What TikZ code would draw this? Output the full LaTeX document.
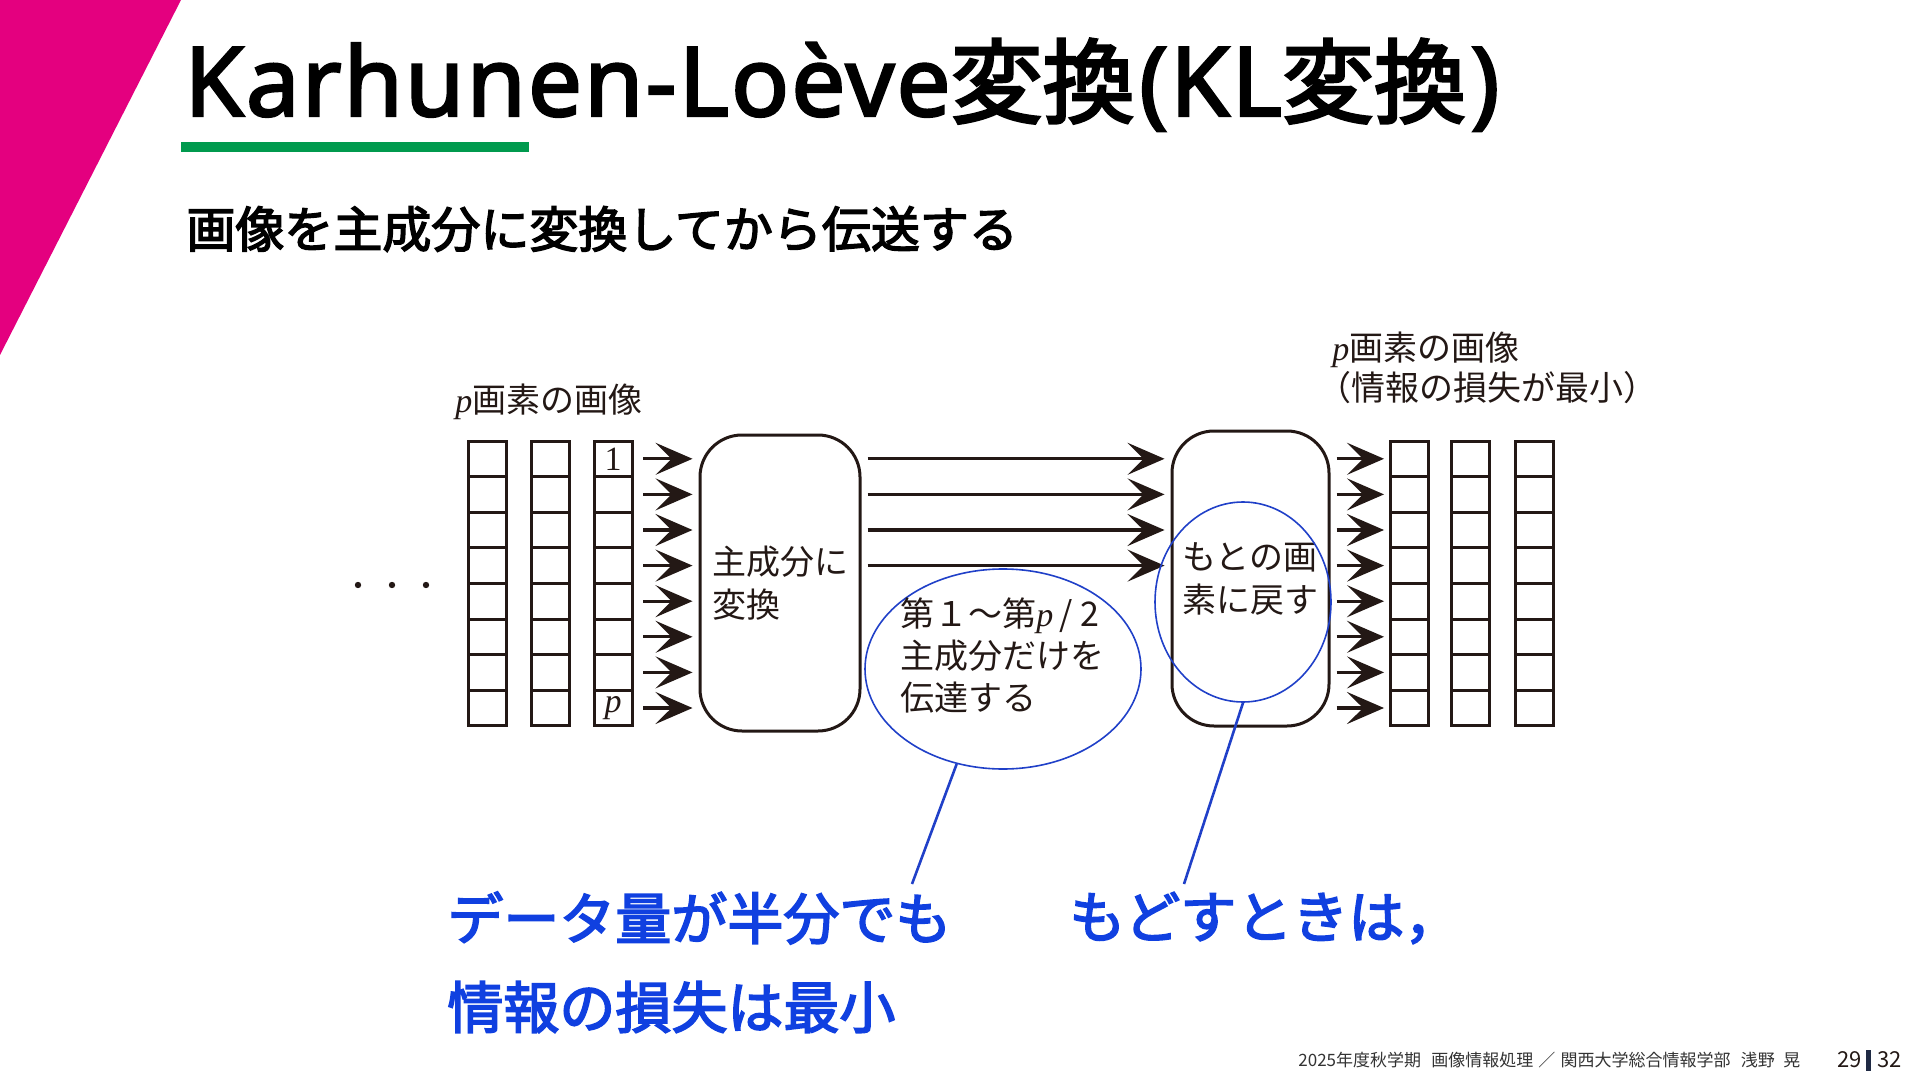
\documentclass[tikz,border=0pt]{standalone}
\usepackage{fontspec}
\setmainfont{Noto Sans CJK JP}
\newfontfamily\seriffont{Liberation Serif}
\newfontfamily\headfont{Noto Sans CJK JP}[FakeBold=3]
\newfontfamily\headlatin{Noto Sans}[FakeBold=2.5, LetterSpace=2.2]
\newfontfamily\notefont{Noto Sans CJK JP}[FakeBold=3]
\usetikzlibrary{arrows.meta,positioning,shapes.geometric}

\definecolor{slidepink}{HTML}{E4007F}
\definecolor{slidegreen}{HTML}{009A4E}
\definecolor{noteblue}{HTML}{1040E0}
\definecolor{ringblue}{HTML}{2040C8}
\definecolor{ink}{HTML}{231815}
\definecolor{navy}{HTML}{1F2A44}

\newcommand{\pvar}{{\seriffont\itshape p}}
\newcommand{\hl}[1]{{\headlatin\fontsize{48}{48}\selectfont #1}}

\begin{document}
\begin{tikzpicture}[x=0.5pt, y=-0.5pt,
    cell/.style = {draw=ink, line width=1.5pt, minimum width=19pt,
                   minimum height=17.8pt, inner sep=0pt, outer sep=0pt},
    proc/.style = {draw=ink, line width=1.5pt, rounded corners=21pt,
                   inner sep=0pt, align=left, text=ink,
                   font=\fontsize{17}{21.5}\selectfont},
    sig/.style  = {-{Stealth[length=18.5pt, width=16pt, inset=8pt]},
                   line width=1.6pt, draw=ink},
    ring/.style = {draw=ringblue, line width=0.8pt, ellipse, inner sep=0pt},
    lead/.style = {draw=ringblue, line width=1.3pt},
    lbl/.style  = {text=ink, font=\fontsize{17}{21}\selectfont,
                   inner sep=0pt, align=left},
    note/.style = {text=noteblue, font=\notefont\fontsize{28}{34}\selectfont,
                   inner sep=0pt},
  ]
  \useasboundingbox (0,0) rectangle (1920,1080);

  % slide frame
  \fill[slidepink] (0,0) -- (181,0) -- (0,355) -- cycle;
  \node[anchor=base west, inner sep=0pt, text=black,
        font=\headfont\fontsize{46}{46}\selectfont] (title) at (184,116)
    {\hl{Karhunen-Loève}変換\kern0.05em\hl{(KL}変換\kern0.05em\hl{)}};
  \fill[slidegreen] (181,142) rectangle (529,152);
  \node[anchor=west, inner sep=0pt, text=black,
        font=\notefont\fontsize{24.5}{24.5}\selectfont] (subtitle) at (186,229)
    {画像を主成分に変換してから伝送する};

  % pixel columns
  \foreach \c/\x in {1/487, 2/550, 3/613}
    \foreach \r in {1,...,8}
      \node[cell] (lc-\c-\r) at (\x, {423.2+35.6*\r}) {};
  \foreach \c/\x in {1/1409, 2/1470, 3/1534}
    \foreach \r in {1,...,8}
      \node[cell] (rc-\c-\r) at (\x, {423.2+35.6*\r}) {};
  \node[lbl, font=\seriffont\fontsize{17}{17}\selectfont] (one) at (lc-3-1) {1};
  \node[lbl, font=\seriffont\itshape\fontsize{17}{17}\selectfont] (last) at (lc-3-8) {p};
  \foreach \x in {358,392,426}
    \fill[ink] (\x,585) circle (1.6pt);

  \node[lbl, anchor=west] (lab-in) at (455,402) {\pvar 画素の画像};
  \node[lbl, anchor=north west, font=\fontsize{17}{20}\selectfont] (lab-out) at (1332,332)
    {\pvar 画素の画像\\\hspace{-0.45em}（情報の損失が最小）};

  % transform blocks
  \node[proc, minimum width=80pt, minimum height=148pt] (enc) at (780,583)
    {主成分に\\変換};
  \node[proc, minimum width=78.5pt, minimum height=147.5pt] (dec) at (1250.5,578.5)
    {もとの画\\素に戻す};

  \foreach \r in {1,...,8} {
    \draw[sig, shorten <=5.5pt, shorten >=3pt] (lc-3-\r.east) -- (enc.west |- lc-3-\r.east);
    \draw[sig, shorten <=3pt, shorten >=3pt] (dec.east |- rc-1-\r.west) -- (rc-1-\r.west);
  }
  \foreach \r in {1,...,4}
    \draw[sig, shorten <=3pt, shorten >=3pt] (enc.east |- lc-3-\r.east) -- (dec.west |- lc-3-\r.east);

  % remarks
  \node[ring, minimum width=138pt, minimum height=100pt] (ring-send) at (1003,669) {};
  \node[lbl, anchor=north west] (txt-send) at (900,597)
    {第１～第\pvar\,/ 2\\主成分だけを\\伝達する};
  \node[ring, minimum width=88pt, minimum height=100pt] (ring-back) at (1243,602) {};

  \node[note, anchor=west] (note-half) at (447,918) {データ量が半分でも};
  \node[note, anchor=west] (note-loss) at (447,1007) {情報の損失は最小};
  \node[note, anchor=west] (note-back) at (1069,918) {もどすときは，};
  \coordinate (tip-half) at (912,884);
  \coordinate (tip-back) at (1184,884);
  \draw[lead] (ring-send.244) -- (tip-half);
  \draw[lead] (ring-back.south) -- (tip-back);

  % footer
  \node[anchor=west, inner sep=0pt, text=black!80,
        font=\fontsize{8.5}{8.5}\selectfont] (footer) at (1298,1060)
    {2025年度秋学期\hspace{0.6em}画像情報処理\hspace{0.3em}／\hspace{0.3em}関西大学総合情報学部\hspace{0.6em}浅野\hspace{0.5em}晃};
  \node[anchor=east, inner sep=0pt, text=ink,
        font=\fontsize{11}{11}\selectfont] (pg-now) at (1862,1060) {29};
  \fill[navy] (1866,1050) rectangle (1871,1071);
  \node[anchor=west, inner sep=0pt, text=ink,
        font=\fontsize{11}{11}\selectfont] (pg-all) at (1877,1060) {32};
\end{tikzpicture}
\end{document}
